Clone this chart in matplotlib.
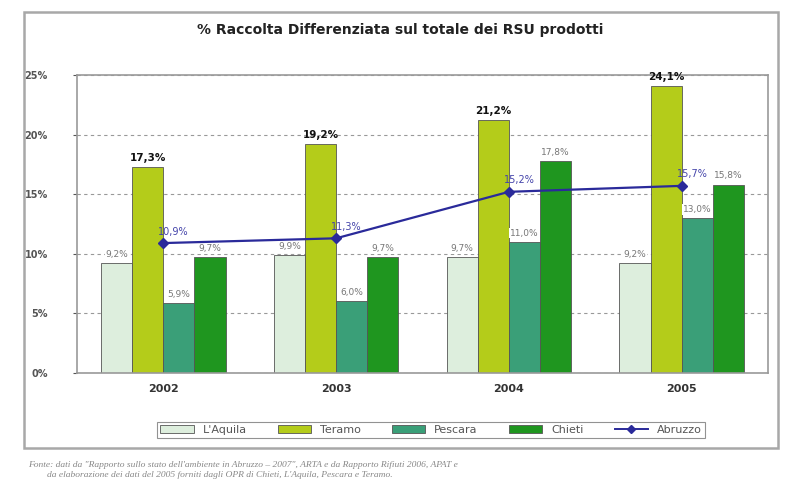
"""Raccolta differenziata chart, Abruzzo provinces 2002-2005."""
import matplotlib
matplotlib.use("Agg")
import matplotlib.pyplot as plt
import matplotlib.ticker as mticker
from matplotlib.patches import Rectangle
from matplotlib.lines import Line2D
import numpy as np

years = ["2002", "2003", "2004", "2005"]
laquila = [9.2, 9.9, 9.7, 9.2]
teramo = [17.3, 19.2, 21.2, 24.1]
pescara = [5.9, 6.0, 11.0, 13.0]
chieti = [9.7, 9.7, 17.8, 15.8]
abruzzo = [10.9, 11.3, 15.2, 15.7]
series_names = ["L'Aquila", "Teramo", "Pescara", "Chieti"]
line_name = "Abruzzo"

colors = ["#ddeedd", "#b4cc1a", "#3a9f78", "#1f961f"]
line_color = "#2a2a9a"

title = "% Raccolta Differenziata sul totale dei RSU prodotti"
source = ("Fonte: dati da \"Rapporto sullo stato dell'ambiente in Abruzzo \u2013 2007\", ARTA e da Rapporto Rifiuti 2006, APAT e\n"
          "        da elaborazione dei dati del 2005 forniti dagli OPR di Chieti, L'Aquila, Pescara e Teramo.")


def fmt(v):
    return f"{v:.1f}%".replace(".", ",")


fig = plt.figure(figsize=(8, 5.03), dpi=100)
fig.patch.set_facecolor("white")

# outer chart frame
fig.patches.append(Rectangle((24 / 800, 1 - 448 / 503), 754 / 800, 436 / 503,
                             transform=fig.transFigure, fill=False,
                             edgecolor="#a8a8a8", linewidth=1.8))

ax = fig.add_axes([77 / 800, 1 - 373 / 503, 691 / 800, 298 / 503])
x = np.arange(len(years))
w = 0.18
all_series = [laquila, teramo, pescara, chieti]
offsets = [-1.5, -0.5, 0.5, 1.5]
for vals, off, col, name in zip(all_series, offsets, colors, series_names):
    bars = ax.bar(x + off * w, vals, w, color=col, edgecolor="#555555",
                  linewidth=0.6, label=name, zorder=2)
    bold = name == "Teramo"
    for b, v in zip(bars, vals):
        ax.text(b.get_x() + b.get_width() / 2, v + 0.35, fmt(v),
                ha="center", va="bottom", fontsize=7.5 if bold else 6.5,
                fontweight="bold" if bold else "normal",
                color="#111111" if bold else "#777777", zorder=4,
                bbox=None if bold else dict(facecolor="white", edgecolor="none", pad=0.5))

ax.plot(x, abruzzo, color=line_color, marker="D", markersize=5,
        linewidth=1.6, zorder=5, label=line_name)
for xi, v in zip(x, abruzzo):
    ax.text(xi + 0.06, v + 0.55, fmt(v), ha="center", va="bottom",
            fontsize=7, color="#4444aa", zorder=6)

ax.set_xlim(-0.5, 3.5)
ax.set_ylim(0, 25)
ax.set_yticks([0, 5, 10, 15, 20, 25])
ax.yaxis.set_major_formatter(mticker.FuncFormatter(lambda v, p: f"{v:.0f}%"))
ax.set_xticks(x)
ax.set_xticklabels(years, fontweight="bold", fontsize=8, color="#333333")
ax.tick_params(axis="y", labelsize=7, colors="#555555", length=3, pad=18)
ax.tick_params(axis="x", length=0, pad=8)
for lbl in ax.get_yticklabels():
    lbl.set_fontweight("bold")
ax.yaxis.grid(True, linestyle=(0, (3, 3)), color="#999999", linewidth=0.8, zorder=0)
ax.set_axisbelow(True)
for s in ax.spines.values():
    s.set_color("#999999")
    s.set_linewidth(1.2)

fig.text(400 / 800, 1 - 30 / 503, title, ha="center", va="center",
         fontsize=10, fontweight="bold", color="#222222")

handles = [Rectangle((0, 0), 1, 1, facecolor=c, edgecolor="#555555", linewidth=0.6)
           for c in colors]
handles.append(Line2D([], [], color=line_color, marker="D", markersize=4, linewidth=1.4))
leg = fig.legend(handles, series_names + [line_name], loc="center",
                 bbox_to_anchor=(431 / 800, 1 - 430 / 503), ncol=5,
                 fontsize=8, frameon=True, fancybox=False, handlelength=3,
                 handleheight=0.7, columnspacing=2.8, borderpad=0.3)
leg.get_frame().set_edgecolor("#777777")
leg.get_frame().set_linewidth(0.8)
for t in leg.get_texts():
    t.set_color("#555555")

fig.text(28 / 800, 1 - 470 / 503, source, ha="left", va="center", fontsize=6.8,
         family="Liberation Serif", style="italic", color="#888888",
         linespacing=1.3)

fig.savefig("out.png", dpi=100)
